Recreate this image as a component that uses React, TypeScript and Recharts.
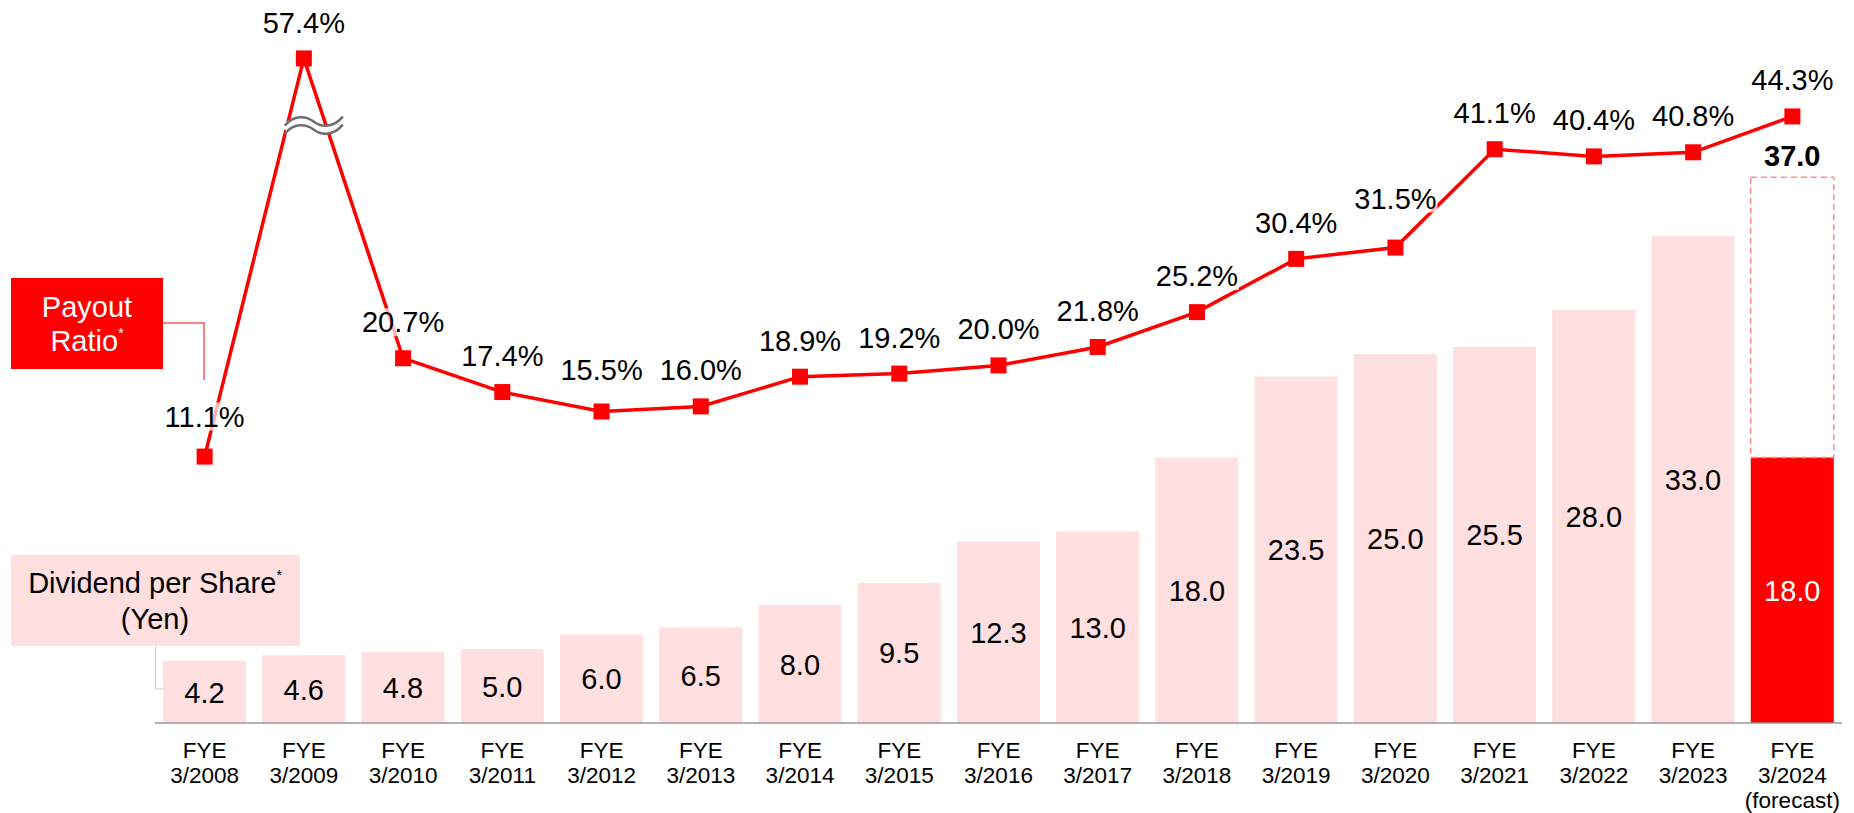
import React from "react"
import { ComposedChart, Bar, Line, XAxis, YAxis, LabelList, ReferenceDot } from "recharts"

const categories = [
  "FYE 3/2008",
  "FYE 3/2009",
  "FYE 3/2010",
  "FYE 3/2011",
  "FYE 3/2012",
  "FYE 3/2013",
  "FYE 3/2014",
  "FYE 3/2015",
  "FYE 3/2016",
  "FYE 3/2017",
  "FYE 3/2018",
  "FYE 3/2019",
  "FYE 3/2020",
  "FYE 3/2021",
  "FYE 3/2022",
  "FYE 3/2023",
  "FYE 3/2024 (forecast)",
]

// dividend per share (yen), actual years
const dividendActual = [4.2, 4.6, 4.8, 5.0, 6.0, 6.5, 8.0, 9.5, 12.3, 13.0, 18.0, 23.5, 25.0, 25.5, 28.0, 33.0]

// forecast year: interim part and full-year total
const forecastInterim = 18.0
const forecastAnnual = 37.0

// payout ratio (%)
const payoutRatio = [11.1, 57.4, 20.7, 17.4, 15.5, 16.0, 18.9, 19.2, 20.0, 21.8, 25.2, 30.4, 31.5, 41.1, 40.4, 40.8, 44.3]

const RED = "#FF0000"
const PINK = "#FFDFDF"
const FONT = "'Liberation Sans', Arial, sans-serif"

// the axis is broken above 45%, values beyond are squeezed
const BREAK_FROM = 45
const BREAK_SQUEEZE = 0.4
const squeeze = (v: number) => (v > BREAK_FROM ? BREAK_FROM + (v - BREAK_FROM) * BREAK_SQUEEZE : v)

// a few ratio labels sit higher above their point than the rest
const LABEL_LIFT = 26
const labelLiftFor: Record<number, number> = { 0: 30, 1: 25, 4: 32, 12: 39 }

const data = categories.map((name, i) => {
  const isForecast = i >= dividendActual.length
  return {
    name,
    dps: isForecast ? null : dividendActual[i],
    interim: isForecast ? forecastInterim : null,
    rest: isForecast ? forecastAnnual - forecastInterim : null,
    total: isForecast ? forecastAnnual : null,
    ratio: payoutRatio[i],
    ratioPlot: squeeze(payoutRatio[i]),
  }
})

const CategoryTick = (props: any) => {
  const { x, y, payload } = props
  const lines = String(payload.value).split(" ")
  return (
    <g transform={`translate(${x},${y})`}>
      {lines.map((t, i) => (
        <text key={i} x={0} y={35 + i * 25} textAnchor="middle" fontSize={22.5} fontFamily={FONT} fill="#000">
          {t}
        </text>
      ))}
    </g>
  )
}

const barLabel = (color: string) => (props: any) => {
  const { x, y, width, height, value } = props
  if (value == null) return null
  return (
    <text x={x + width / 2} y={y + height / 2} dy={10.5} textAnchor="middle" fontSize={29} fontFamily={FONT} fill={color}>
      {Number(value).toFixed(1)}
    </text>
  )
}

const totalLabel = (props: any) => {
  const { x, y, width, value } = props
  if (value == null) return null
  return (
    <text x={x + width / 2} y={y - 11} textAnchor="middle" fontSize={29} fontWeight="bold" fontFamily={FONT} fill="#000">
      {Number(value).toFixed(1)}
    </text>
  )
}

const RatioDot = (props: any) => {
  const { cx, cy, index } = props
  const label = `${payoutRatio[index].toFixed(1)}%`
  const base = cy - (labelLiftFor[index] ?? LABEL_LIFT)
  return (
    <g key={`dot-${index}`}>
      <rect x={cx - 8} y={cy - 8} width={16} height={16} fill={RED} />
      <rect x={cx - 42} y={base - 24} width={84} height={28} fill="#fff" fillOpacity={0.7} />
      <text x={cx} y={base} textAnchor="middle" fontSize={29} fontFamily={FONT} fill="#000">
        {label}
      </text>
    </g>
  )
}

const BreakMark = (props: any) => {
  const cx = props.cx + 10
  const cy = props.cy
  const wave = (dy: number) =>
    `M ${cx - 29} ${cy + 4 + dy} C ${cx - 20} ${cy - 7 + dy}, ${cx - 8} ${cy - 6 + dy}, ${cx} ${cy + dy} C ${cx + 8} ${cy + 6 + dy}, ${cx + 20} ${cy + 6 + dy}, ${cx + 29} ${cy - 5 + dy}`
  return (
    <g>
      <path d={wave(0)} stroke="#fff" strokeWidth={9} fill="none" />
      <path d={wave(-4)} stroke="#6E6E6E" strokeWidth={2.5} fill="none" />
      <path d={wave(4)} stroke="#6E6E6E" strokeWidth={2.5} fill="none" />
    </g>
  )
}

export default function App() {
  return (
    <div style={{ position: "absolute", left: 0, top: 0, width: 1854, height: 813, background: "#fff" }}>
      <ComposedChart
        width={1854}
        height={813}
        data={data}
        margin={{ top: 15, right: 12, bottom: 0, left: 155 }}
        barSize={83}
      >
        <XAxis
          dataKey="name"
          height={90}
          tickLine={false}
          tickSize={0}
          tickMargin={0}
          axisLine={{ stroke: "#999", strokeWidth: 1.5 }}
          tick={<CategoryTick />}
          interval={0}
        />
        <YAxis yAxisId="dps" hide domain={[0, 48]} type="number" />
        <YAxis yAxisId="ratio" hide domain={[-14.9, 54.2]} type="number" />

        <Bar yAxisId="dps" dataKey="dps" stackId="div" fill={PINK} isAnimationActive={false}>
          <LabelList dataKey="dps" content={barLabel("#000")} />
        </Bar>
        <Bar yAxisId="dps" dataKey="interim" stackId="div" fill={RED} isAnimationActive={false}>
          <LabelList dataKey="interim" content={barLabel("#fff")} />
        </Bar>
        <Bar
          yAxisId="dps"
          dataKey="rest"
          stackId="div"
          fill="none"
          stroke="#FF8C8C"
          strokeWidth={1.5}
          strokeDasharray="6 4"
          isAnimationActive={false}
        >
          <LabelList dataKey="total" content={totalLabel} />
        </Bar>

        <Line
          yAxisId="ratio"
          dataKey="ratioPlot"
          stroke={RED}
          strokeWidth={3.5}
          dot={(p: any) => <RatioDot key={`dot-${p.index}`} {...p} />}
          activeDot={false}
          isAnimationActive={false}
        />
        <ReferenceDot yAxisId="ratio" x="FYE 3/2009" y={43.4} r={1} shape={(p: any) => <BreakMark {...p} />} />
      </ComposedChart>

      <svg width={1854} height={813} style={{ position: "absolute", left: 0, top: 0, pointerEvents: "none" }}>
        <polyline points="163,323 204,323 204,380" fill="none" stroke={RED} strokeWidth={1} />
        <rect x={11} y={278} width={152} height={91} fill={RED} />
        <text x={87} y={317} textAnchor="middle" fontSize={29} fontFamily={FONT} fill="#fff">
          Payout
        </text>
        <text x={87} y={351} textAnchor="middle" fontSize={29} fontFamily={FONT} fill="#fff">
          Ratio
          <tspan fontSize={14} dy={-13}>*</tspan>
        </text>

        <polyline points="155.5,646 155.5,689 163,689" fill="none" stroke="#F7BDBD" strokeWidth={1} />
        <rect x={11} y={555} width={289} height={91} fill={PINK} />
        <text x={155} y={593} textAnchor="middle" fontSize={29} fontFamily={FONT} fill="#000">
          Dividend per Share
          <tspan fontSize={14} dy={-13}>*</tspan>
        </text>
        <text x={155} y={629} textAnchor="middle" fontSize={29} fontFamily={FONT} fill="#000">
          (Yen)
        </text>
      </svg>
    </div>
  )
}
